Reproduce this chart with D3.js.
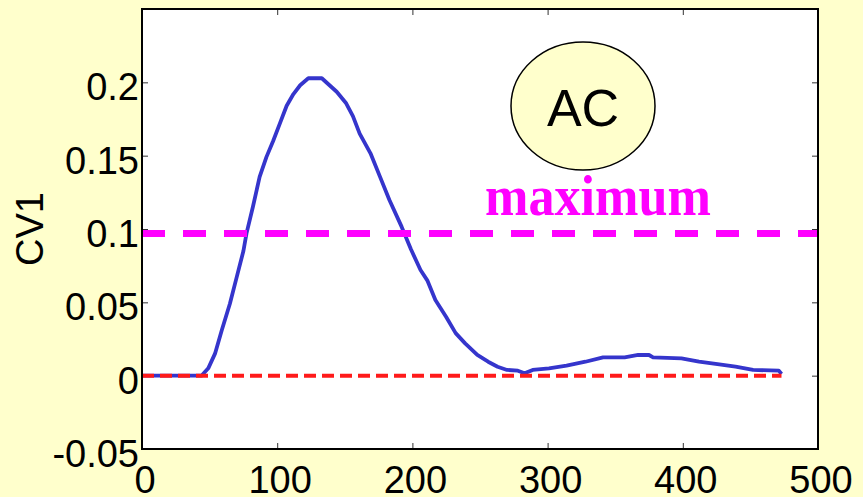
<!DOCTYPE html>
<html>
<head>
  <meta charset="utf-8">
  <title>CV1 - AC</title>
  <script src="https://d3js.org/d3.v7.min.js"></script>
  <style>
    body{
      margin: 0;
      background-color: #ffffcc;
    }
    text{
      font-family: "Liberation Sans", Arial, sans-serif;
    }
    .tick-label{
      font-size: 38px;
      fill: black;
    }
  </style>
</head>
<body>
<svg id="chart" width="863" height="497"></svg>
<script>
// values
var xValues = [0, 44, 49, 54, 59, 65, 70, 75, 77.3, 82, 87, 92, 97, 102, 107, 112, 117, 123, 133,
  144, 151, 156, 161, 169, 176, 183, 192, 199, 206, 211, 217, 225, 232, 239, 248, 256, 263, 270,
  278, 283, 289, 301, 314, 328, 341, 357, 367, 375, 378, 399, 412, 427, 439, 452, 471, 473];
var cv1Values = [0, 0, 0.005, 0.015, 0.031, 0.049, 0.067, 0.085, 0.097, 0.115, 0.1355, 0.149, 0.16,
  0.172, 0.184, 0.192, 0.198, 0.2028, 0.2028, 0.1936, 0.1857, 0.177, 0.165, 0.1516, 0.1357, 0.1198,
  0.1016, 0.086, 0.072, 0.065, 0.0516, 0.040, 0.029, 0.022, 0.0141, 0.0095, 0.0061, 0.0039, 0.0034,
  0.0016, 0.0039, 0.005, 0.0068, 0.0095, 0.0125, 0.0125, 0.0141, 0.0141, 0.0125, 0.0118, 0.0095,
  0.0077, 0.0061, 0.0039, 0.0034, 0.0011];
var maximumLevel = 0.097;
var zeroLine = [0, 473];
var xTicks = [0, 100, 200, 300, 400, 500];
var yTicks = [-0.05, 0, 0.05, 0.1, 0.15, 0.2];
var yTickLabels = ["-0.05", "0", "0.05", "0.1", "0.15", "0.2"];

var svg = d3.select("#chart");
var box = {left: 142, right: 818, top: 9, bottom: 449};

var x = d3.scaleLinear().domain([0, 500]).range([box.left, box.right]);
var y = d3.scaleLinear().domain([-0.05, 0.25]).range([box.bottom, box.top]);

// plot area
svg.append("rect")
    .attr("x", box.left).attr("y", box.top)
    .attr("width", box.right - box.left).attr("height", box.bottom - box.top)
    .attr("fill", "white");

// inner ticks on all four sides
svg.append("g").attr("transform", "translate(0," + box.bottom + ")")
    .call(d3.axisTop(x).tickValues(xTicks.slice(1, -1)).tickSize(6).tickFormat(""));
svg.append("g").attr("transform", "translate(0," + box.top + ")")
    .call(d3.axisBottom(x).tickValues(xTicks.slice(1, -1)).tickSize(6).tickFormat(""));
svg.append("g").attr("transform", "translate(" + box.left + ",0)")
    .call(d3.axisRight(y).tickValues(yTicks.slice(1)).tickSize(6).tickFormat(""));
svg.append("g").attr("transform", "translate(" + box.right + ",0)")
    .call(d3.axisLeft(y).tickValues(yTicks.slice(1)).tickSize(6).tickFormat(""));
svg.selectAll(".domain").remove();
svg.selectAll(".tick line").attr("stroke", "#333").attr("stroke-width", 1);

// tick labels
svg.append("g").selectAll("text")
    .data(xTicks)
    .enter().append("text")
      .attr("class", "tick-label")
      .attr("x", function(d) { return x(d) + 3; })
      .attr("y", box.bottom + 44)
      .attr("text-anchor", "middle")
      .text(function(d) { return d; });

svg.append("g").selectAll("text")
    .data(yTicks)
    .enter().append("text")
      .attr("class", "tick-label")
      .attr("x", box.left - 3)
      .attr("y", function(d) { return y(d) + 18; })
      .attr("text-anchor", "end")
      .text(function(d, i) { return yTickLabels[i]; });

svg.append("text")
    .attr("class", "tick-label")
    .attr("transform", "translate(43," + ((box.top + box.bottom) / 2) + ") rotate(-90)")
    .attr("text-anchor", "middle")
    .text("CV1");

// clip lines to the axes box
svg.append("clipPath").attr("id", "clip")
  .append("rect")
    .attr("x", box.left).attr("y", box.top)
    .attr("width", box.right - box.left).attr("height", box.bottom - box.top);

var plot = svg.append("g").attr("clip-path", "url(#clip)");

var line = d3.line()
    .x(function(d, i) { return x(xValues[i]); })
    .y(function(d) { return y(d); });

plot.append("path")
    .datum(cv1Values)
    .attr("d", line)
    .attr("fill", "none")
    .attr("stroke", "#3535cc")
    .attr("stroke-width", 3.8)
    .attr("stroke-linejoin", "round");

plot.append("line")
    .attr("x1", x(zeroLine[0])).attr("x2", x(zeroLine[1]))
    .attr("y1", y(0)).attr("y2", y(0))
    .attr("stroke", "#ff1a1a")
    .attr("stroke-width", 4)
    .attr("stroke-dasharray", "12,6");

plot.append("line")
    .attr("x1", x(0)).attr("x2", x(500))
    .attr("y1", y(maximumLevel)).attr("y2", y(maximumLevel))
    .attr("stroke", "#ff00ff")
    .attr("stroke-width", 7)
    .attr("stroke-dasharray", "23,18");

// axes box
svg.append("rect")
    .attr("x", box.left).attr("y", box.top)
    .attr("width", box.right - box.left).attr("height", box.bottom - box.top)
    .attr("fill", "none")
    .attr("stroke", "black")
    .attr("stroke-width", 2);

// annotations
svg.append("ellipse")
    .attr("cx", 583).attr("cy", 106)
    .attr("rx", 72).attr("ry", 64)
    .attr("fill", "#ffffcc")
    .attr("stroke", "black")
    .attr("stroke-width", 1.5);

svg.append("text")
    .attr("x", 583).attr("y", 126)
    .attr("text-anchor", "middle")
    .style("font-size", "52px")
    .text("AC");

svg.append("text")
    .attr("x", 485).attr("y", 215)
    .attr("textLength", 226)
    .attr("lengthAdjust", "spacingAndGlyphs")
    .style("font-family", "'Liberation Serif', 'Times New Roman', serif")
    .style("font-weight", "bold")
    .style("font-size", "58px")
    .attr("fill", "#ff00ff")
    .text("maximum");
</script>
</body>
</html>
